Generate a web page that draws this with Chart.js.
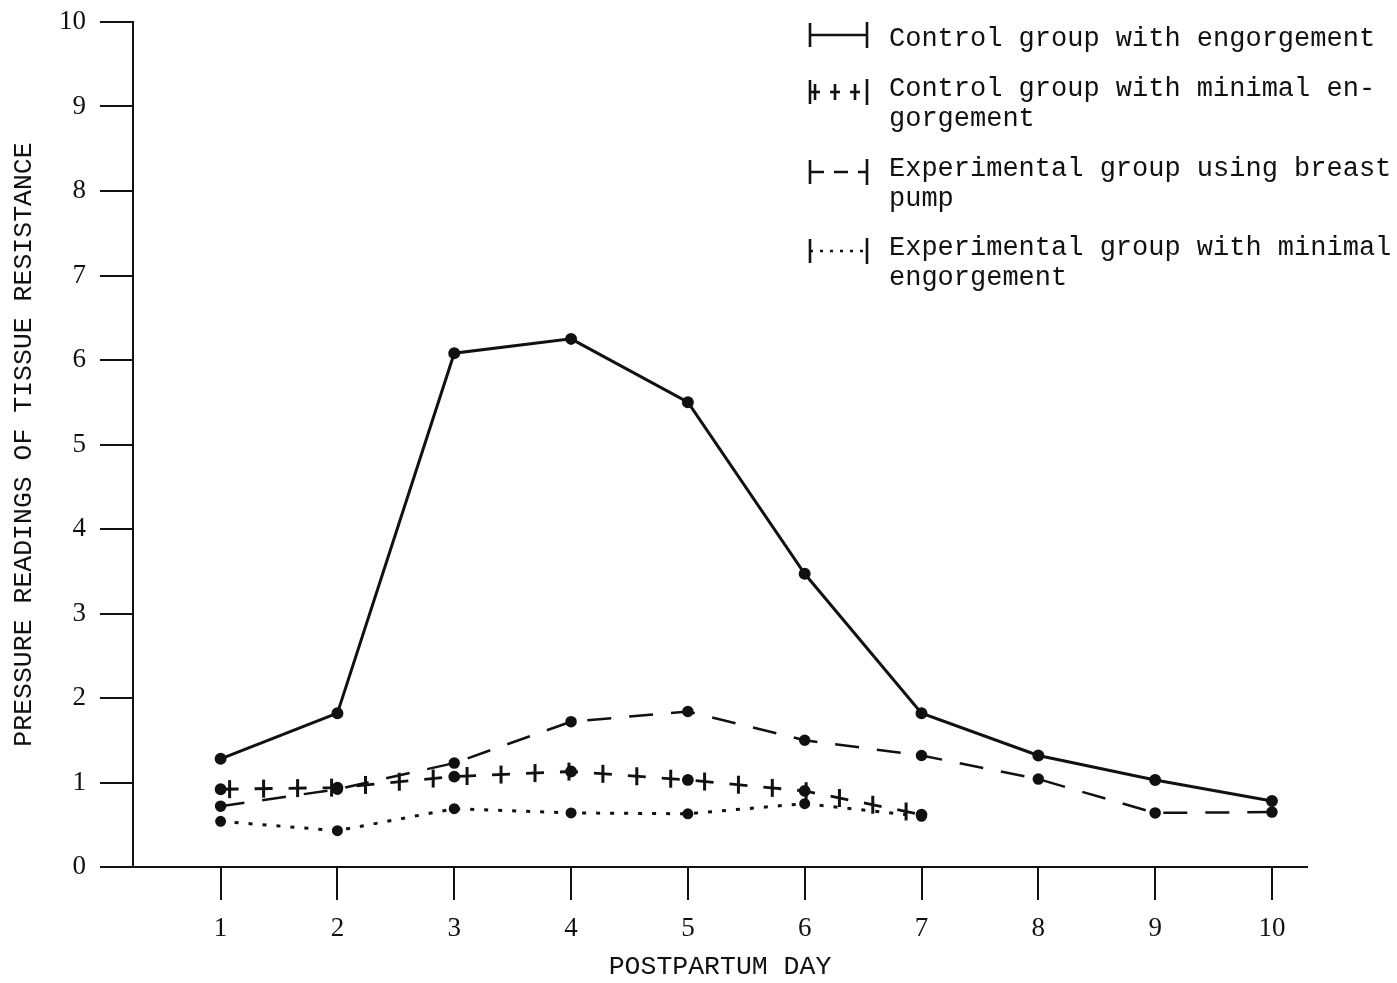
<!DOCTYPE html>
<html>
<head>
<meta charset="utf-8">
<script src="https://cdn.jsdelivr.net/npm/chart.js@4/dist/chart.umd.min.js"></script>
<style>
  html,body{margin:0;padding:0;background:#fff;}
  canvas{display:block;}
</style>
</head>
<body>
<canvas id="chart" width="1397" height="983"></canvas>
<script>
// data
const days = [1,2,3,4,5,6,7,8,9,10];
const yTicks = [0,1,2,3,4,5,6,7,8,9,10];
const ctlEngorged = [1.28, 1.82, 6.08, 6.25, 5.5, 3.47, 1.82, 1.32, 1.03, 0.78];
const ctlMinimal  = [0.92, 0.94, 1.07, 1.13, 1.03, 0.9, 0.62];
const expPump     = [0.72, 0.92, 1.23, 1.72, 1.84, 1.5, 1.32, 1.04, 0.64, 0.65];
const expMinimal  = [0.54, 0.43, 0.69, 0.64, 0.63, 0.75, 0.6];

const legendLabels = [
  ["Control group with engorgement"],
  ["Control group with minimal en-", "gorgement"],
  ["Experimental group using breast", "pump"],
  ["Experimental group with minimal", "engorgement"]
];

const INK = "#111";
const pts = (arr)=> arr.map((v,i)=>({x:days[i], y:v}));

// little vertical bars centred on each dash -> "+ + +" line
const crossMarks = {
  id: "crossMarks",
  afterDatasetsDraw(chart){
    const ctx = chart.ctx;
    chart.data.datasets.forEach((ds,i)=>{
      if(!ds.crossStep) return;
      const el = chart.getDatasetMeta(i).data;
      ctx.save();
      ctx.strokeStyle = INK; ctx.lineWidth = 3;
      let next = ds.borderDash[0]/2, acc = 0;
      for(let k=1;k<el.length;k++){
        const a = el[k-1], b = el[k];
        const dx = b.x-a.x, dy = b.y-a.y, len = Math.hypot(dx,dy);
        while(next <= acc+len){
          const t = (next-acc)/len;
          const x = a.x+dx*t, y = a.y+dy*t;
          ctx.beginPath(); ctx.moveTo(x,y-9); ctx.lineTo(x,y+9); ctx.stroke();
          next += ds.crossStep;
        }
        acc += len;
      }
      ctx.restore();
    });
  }
};

// legend in the top right corner, drawn like the typed original
const typedLegend = {
  id: "typedLegend",
  afterDraw(chart){
    const ctx = chart.ctx;
    const rows = [39, 89, 169, 248];
    ctx.save();
    ctx.fillStyle = INK; ctx.strokeStyle = INK;
    ctx.font = "27px 'Liberation Mono'";
    ctx.textBaseline = "middle";
    legendLabels.forEach((lines,i)=>{
      const y0 = rows[i];
      lines.forEach((t,j)=> ctx.fillText(t, 889, y0 + j*30));
      const ds = chart.data.datasets[i];
      const ly = y0 + (i===0 ? -4 : 3);
      ctx.lineWidth = 2.6;
      // end caps
      ctx.setLineDash([]);
      ctx.beginPath();
      ctx.moveTo(810, ly-12); ctx.lineTo(810, ly+12);
      ctx.moveTo(867, ly-13); ctx.lineTo(867, ly+13);
      ctx.stroke();
      ctx.setLineDash(ds.crossStep ? [10,10] : (ds.borderDash ? [14,10] : []));
      if(i===3) ctx.setLineDash([3,7]);
      ctx.beginPath(); ctx.moveTo(810, ly); ctx.lineTo(867, ly); ctx.stroke();
      ctx.setLineDash([]);
      if(ds.crossStep){
        [815, 835, 855].forEach(x=>{ ctx.beginPath(); ctx.moveTo(x,ly-8); ctx.lineTo(x,ly+8); ctx.stroke(); });
      }
    });
    ctx.restore();
  }
};

const common = { borderColor:INK, backgroundColor:INK, pointRadius:4.5, pointHoverRadius:4.5, tension:0, fill:false };

new Chart(document.getElementById("chart"), {
  type: "line",
  data: {
    datasets: [
      { ...common, label:"Control group with engorgement", data:pts(ctlEngorged), borderWidth:3 },
      { ...common, label:"Control group with minimal engorgement", data:pts(ctlMinimal), borderWidth:2.8, borderDash:[18,16], crossStep:34 },
      { ...common, label:"Experimental group using breast pump", data:pts(expPump), borderWidth:2.5, borderDash:[24,18] },
      { ...common, label:"Experimental group with minimal engorgement", data:pts(expMinimal), borderWidth:3, borderDash:[4,10], pointRadius:4 }
    ]
  },
  options: {
    responsive:false, animation:false,
    layout:{ padding:{ top:22, right:90, left:0, bottom:0 } },
    plugins:{ legend:{display:false}, tooltip:{enabled:false} },
    scales:{
      x:{
        type:"linear", min:0.25, max:10.3,
        afterBuildTicks: s => { s.ticks = days.map(v=>({value:v})); },
        grid:{ drawOnChartArea:false, tickLength:33, color:INK, lineWidth:2 },
        border:{ color:INK, width:2 },
        ticks:{ autoSkip:false, maxRotation:0, color:INK, padding:13, font:{family:"Liberation Serif", size:27} },
        title:{ display:true, text:"POSTPARTUM DAY", color:INK, padding:{top:0,bottom:0}, font:{family:"Liberation Mono", size:26.5} },
        afterFit: s => { s.height = 116; s.paddingLeft = 0; s.paddingRight = 0; }
      },
      y:{
        min:0, max:10,
        afterBuildTicks: s => { s.ticks = yTicks.map(v=>({value:v})); },
        grid:{ drawOnChartArea:false, tickLength:33, color:INK, lineWidth:2 },
        border:{ color:INK, width:2 },
        ticks:{ color:INK, padding:14, font:{family:"Liberation Serif", size:27} },
        title:{ display:true, text:"PRESSURE READINGS OF TISSUE RESISTANCE", color:INK, padding:{top:8,bottom:0}, font:{family:"Liberation Mono", size:26.5} },
        afterFit: s => { s.width = 133; s.paddingTop = 0; s.paddingBottom = 0; }
      }
    }
  },
  plugins:[crossMarks, typedLegend]
});
</script>
</body>
</html>
